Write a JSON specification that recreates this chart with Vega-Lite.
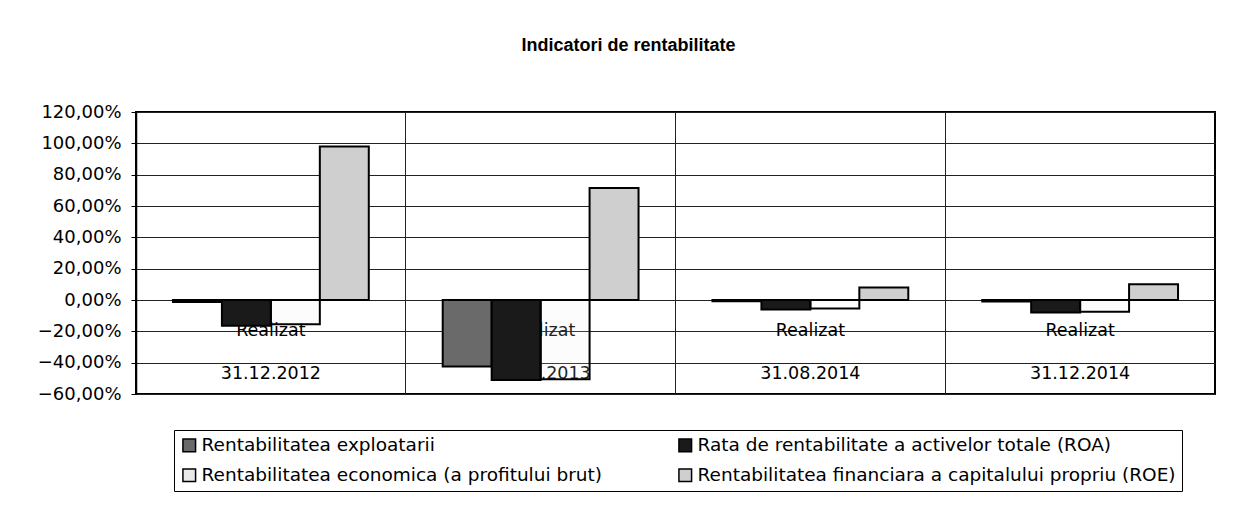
{
  "$schema": "https://vega.github.io/schema/vega-lite/v6.json",
  "width": 1079,
  "height": 282,
  "autosize": {"type": "none"},
  "padding": {"left": 136, "top": 112, "right": 32, "bottom": 117},
  "background": "white",
  "title": {
    "text": "Indicatori de rentabilitate",
    "font": "Liberation Sans",
    "fontSize": 18,
    "fontWeight": "bold",
    "color": "black",
    "anchor": "middle",
    "frame": "group",
    "dx": -47,
    "offset": 48
  },
  "data": {
    "values": [
      {"cat": "Realizat|31.12.2012", "series": "Rentabilitatea exploatarii", "value": -0.013},
      {"cat": "Realizat|31.12.2012", "series": "Rata de rentabilitate a activelor totale (ROA)", "value": -0.164},
      {"cat": "Realizat|31.12.2012", "series": "Rentabilitatea economica (a profitului brut)", "value": -0.154},
      {"cat": "Realizat|31.12.2012", "series": "Rentabilitatea financiara a capitalului propriu (ROE)", "value": 0.98},
      {"cat": "Realizat|31.12.2013", "series": "Rentabilitatea exploatarii", "value": -0.425},
      {"cat": "Realizat|31.12.2013", "series": "Rata de rentabilitate a activelor totale (ROA)", "value": -0.51},
      {"cat": "Realizat|31.12.2013", "series": "Rentabilitatea economica (a profitului brut)", "value": -0.506},
      {"cat": "Realizat|31.12.2013", "series": "Rentabilitatea financiara a capitalului propriu (ROE)", "value": 0.715},
      {"cat": "Realizat|31.08.2014", "series": "Rentabilitatea exploatarii", "value": -0.008},
      {"cat": "Realizat|31.08.2014", "series": "Rata de rentabilitate a activelor totale (ROA)", "value": -0.06},
      {"cat": "Realizat|31.08.2014", "series": "Rentabilitatea economica (a profitului brut)", "value": -0.055},
      {"cat": "Realizat|31.08.2014", "series": "Rentabilitatea financiara a capitalului propriu (ROE)", "value": 0.08},
      {"cat": "Realizat|31.12.2014", "series": "Rentabilitatea exploatarii", "value": -0.01},
      {"cat": "Realizat|31.12.2014", "series": "Rata de rentabilitate a activelor totale (ROA)", "value": -0.08},
      {"cat": "Realizat|31.12.2014", "series": "Rentabilitatea economica (a profitului brut)", "value": -0.075},
      {"cat": "Realizat|31.12.2014", "series": "Rentabilitatea financiara a capitalului propriu (ROE)", "value": 0.1}
    ]
  },
  "mark": {"type": "bar", "stroke": "black", "strokeWidth": 2},
  "encoding": {
    "x": {
      "field": "cat",
      "type": "nominal",
      "sort": null,
      "scale": {"paddingInner": 0, "paddingOuter": 0},
      "axis": {
        "title": null,
        "orient": "bottom",
        "offset": -73,
        "domain": false,
        "ticks": false,
        "tickSize": 0,
        "bandPosition": 0,
        "labelExpr": "split(datum.label, '|')",
        "labelBaseline": "top",
        "labelLineHeight": 43.5,
        "labelPadding": 0,
        "labelAngle": 0,
        "labelFont": "DejaVu Sans",
        "labelFontSize": 17.5,
        "labelColor": "black",
        "grid": true,
        "gridColor": "#222222",
        "gridWidth": 1,
        "gridOpacity": 1,
        "zindex": 0
      }
    },
    "xOffset": {
      "field": "series",
      "type": "nominal",
      "sort": null,
      "scale": {"paddingInner": 0, "paddingOuter": 0.755}
    },
    "y": {
      "field": "value",
      "type": "quantitative",
      "scale": {"domain": [-0.6, 1.2], "nice": false, "zero": false},
      "axis": {
        "title": null,
        "values": [-0.6, -0.4, -0.2, 0, 0.2, 0.4, 0.6, 0.8, 1.0, 1.2],
        "format": ".2%",
        "labelFont": "DejaVu Sans",
        "labelFontSize": 18,
        "labelColor": "black",
        "labelPadding": 10,
        "tickSize": 5,
        "tickColor": "black",
        "tickWidth": 1,
        "domainColor": "black",
        "domainWidth": 1.5,
        "grid": true,
        "gridColor": "#222222",
        "gridWidth": 1,
        "gridOpacity": 1
      }
    },
    "fillOpacity": {
      "condition": {"test": "datum.series === 'Rentabilitatea economica (a profitului brut)'", "value": 0.15},
      "value": 1
    },
    "color": {
      "field": "series",
      "type": "nominal",
      "scale": {
        "domain": [
          "Rentabilitatea exploatarii",
          "Rentabilitatea economica (a profitului brut)",
          "Rata de rentabilitate a activelor totale (ROA)",
          "Rentabilitatea financiara a capitalului propriu (ROE)"
        ],
        "range": ["#6a6a6a", "#e8e8e8", "#1a1a1a", "#cfcfcf"]
      },
      "legend": {
        "title": null,
        "orient": "none",
        "legendX": 38,
        "legendY": 318,
        "columns": 2,
        "columnPadding": 72,
        "rowPadding": 10,
        "padding": 6,
        "strokeColor": "black",
        "fillColor": "white",
        "symbolType": "square",
        "symbolSize": 160,
        "symbolStrokeColor": "black",
        "symbolStrokeWidth": 1.5,
        "symbolOpacity": 1,
        "labelOffset": 3,
        "labelFont": "DejaVu Sans",
        "labelFontSize": 18.5,
        "labelColor": "black",
        "labelLimit": 600
      }
    }
  },
  "config": {
    "locale": {"number": {"decimal": ",", "thousands": ".", "grouping": [3], "currency": ["", ""]}},
    "view": {"stroke": "black", "strokeWidth": 2}
  }
}
